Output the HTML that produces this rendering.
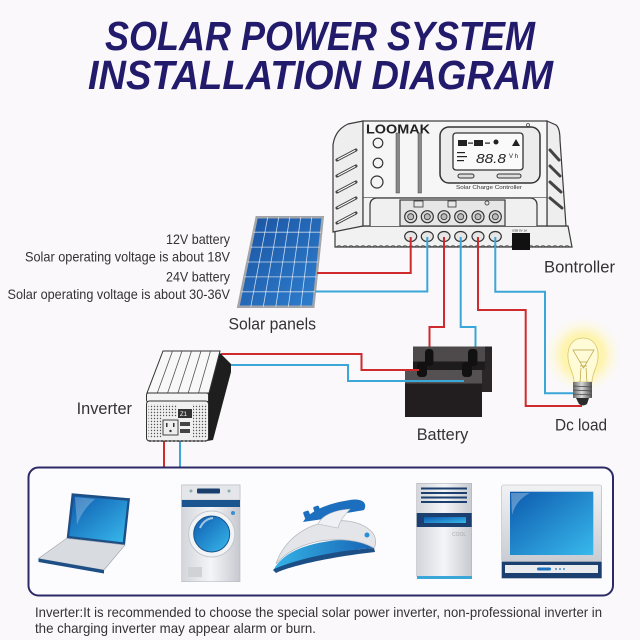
<!DOCTYPE html>
<html><head><meta charset="utf-8"><style>
html,body{margin:0;padding:0;background:#faf8fa;}
svg{display:block;}
text{font-family:"Liberation Sans",sans-serif;}
</style></head><body>
<svg width="640" height="640" viewBox="0 0 640 640" xmlns="http://www.w3.org/2000/svg">
<defs>
<linearGradient id="pv" x1="0" y1="0" x2="1" y2="1"><stop offset="0" stop-color="#1a52a0"/><stop offset="1" stop-color="#2f80cf"/></linearGradient>
<linearGradient id="scr" x1="0" y1="0" x2="1" y2="1"><stop offset="0" stop-color="#0d5aae"/><stop offset="1" stop-color="#38b9ec"/></linearGradient>
<linearGradient id="metal" x1="0" y1="0" x2="0" y2="1"><stop offset="0" stop-color="#f1f2f4"/><stop offset="1" stop-color="#c9ccd2"/></linearGradient>
<linearGradient id="metalh" x1="0" y1="0" x2="1" y2="0"><stop offset="0" stop-color="#d2d5da"/><stop offset="0.5" stop-color="#f4f5f7"/><stop offset="1" stop-color="#c6c9cf"/></linearGradient>
<radialGradient id="glow" cx="0.5" cy="0.5" r="0.5"><stop offset="0" stop-color="#fff6a8" stop-opacity="1"/><stop offset="0.55" stop-color="#fff3a0" stop-opacity="0.8"/><stop offset="1" stop-color="#fffbe0" stop-opacity="0"/></radialGradient>
<linearGradient id="base" x1="0" y1="0" x2="1" y2="0"><stop offset="0" stop-color="#6a6a6a"/><stop offset="0.45" stop-color="#d8d8d8"/><stop offset="1" stop-color="#555"/></linearGradient>
<linearGradient id="ironb" x1="0" y1="0" x2="1" y2="0"><stop offset="0" stop-color="#35b3e6"/><stop offset="1" stop-color="#1763b4"/></linearGradient>
<pattern id="wave" width="6" height="4" patternUnits="userSpaceOnUse"><path d="M0,3.2 Q3,0 6,3.2" fill="none" stroke="#444" stroke-width="0.8"/></pattern>
<pattern id="dots" width="3" height="3" patternUnits="userSpaceOnUse"><circle cx="1.5" cy="1.5" r="0.7" fill="#555"/></pattern>
</defs>

<!-- Title -->
<text x="105" y="50" font-size="41" font-weight="bold" font-style="italic" fill="#221a6b" textLength="430" lengthAdjust="spacingAndGlyphs">SOLAR POWER SYSTEM</text>
<text x="88" y="89" font-size="41" font-weight="bold" font-style="italic" fill="#221a6b" textLength="465" lengthAdjust="spacingAndGlyphs">INSTALLATION DIAGRAM</text>

<!-- Controller -->
<g stroke="#3a3a3a" stroke-width="1.2">
  <path d="M335,226 L568,226 L572,247 L335,247 Z" fill="#f1f1f1"/>
  <rect x="336" y="243.5" width="234" height="4" fill="url(#wave)" stroke="none"/>
  <path d="M333,232 L333,145 Q335,130 348,124 L363,121 L363,226 Z" fill="#eeeeee"/>
  <path d="M547,121 L556,125 Q560,128 560,140 L566,226 L547,226 Z" fill="#eeeeee"/>
  <rect x="363" y="121" width="184" height="77" fill="#f6f6f6"/>
  <path d="M363,198 L363,226 L547,226 L547,198" fill="#f2f2f2"/>
  <path d="M370,226 L370,205 Q370,199 376,198 L531,198 Q537,199 537,205 L537,226" fill="#f0f0f0"/>
  <rect x="400" y="200" width="105" height="26" fill="#e6e6e6"/>
</g>
<g stroke="#444" stroke-width="3" stroke-linecap="round" fill="none">
  <path d="M337,160 L356,150"/><path d="M337,176 L356,166"/><path d="M337,192 L356,182"/><path d="M337,208 L356,198"/><path d="M337,223 L356,213"/>
  <path d="M550,150 L559,160"/><path d="M550,166 L560,176"/><path d="M550,182 L561,192"/><path d="M550,198 L562,208"/>
</g>
<g stroke="#fff" stroke-width="1" stroke-linecap="round" fill="none">
  <path d="M338,159.5 L355,150.5"/><path d="M338,175.5 L355,166.5"/><path d="M338,191.5 L355,182.5"/><path d="M338,207.5 L355,198.5"/><path d="M338,222.5 L355,213.5"/>
</g>
<text x="366" y="133.5" font-size="12.5" font-weight="bold" fill="#222" textLength="64" lengthAdjust="spacingAndGlyphs">LOOMAK</text>
<g fill="#f4f4f4" stroke="#333" stroke-width="1.2">
  <circle cx="378" cy="143" r="4.8"/><circle cx="378" cy="163" r="4.8"/><circle cx="377" cy="182" r="6"/>
</g>
<rect x="396" y="133" width="3.5" height="60" fill="#888" stroke="#444" stroke-width="0.5"/>
<rect x="418" y="133" width="3.5" height="60" fill="#888" stroke="#444" stroke-width="0.5"/>
<rect x="440" y="127" width="100" height="56" rx="9" fill="#ececec" stroke="#333" stroke-width="1.5"/>
<rect x="453" y="133" width="70" height="37" rx="3" fill="#fafafa" stroke="#333" stroke-width="1.3"/>
<g fill="#222">
  <rect x="458" y="140" width="9" height="6"/><rect x="468" y="142.5" width="5" height="1.2"/>
  <rect x="474" y="140" width="9" height="6"/><rect x="485" y="142.5" width="5" height="1.2"/>
  <circle cx="496" cy="142" r="2.5"/><path d="M512,146 L516,139 L520,146 Z"/>
  <rect x="457" y="152" width="8" height="1.2"/><rect x="457" y="156" width="10" height="1.2"/><rect x="457" y="160" width="7" height="1.2"/>
</g>
<text x="476" y="163" font-size="13" font-style="italic" fill="#222" textLength="30" lengthAdjust="spacingAndGlyphs">88.8</text>
<text x="509" y="158" font-size="6" fill="#222">V h</text>
<rect x="458" y="174" width="16" height="4" rx="2" fill="#ddd" stroke="#333" stroke-width="1"/>
<rect x="497" y="174" width="24" height="4" rx="2" fill="#ddd" stroke="#333" stroke-width="1"/>
<text x="456" y="189" font-size="5" fill="#333" textLength="66" lengthAdjust="spacingAndGlyphs">Solar Charge Controller</text>
<circle cx="528" cy="125" r="1.5" fill="none" stroke="#444" stroke-width="0.8"/>
<g fill="#333">
  <rect x="414" y="201" width="9" height="6" fill="none" stroke="#333" stroke-width="0.8"/>
  <rect x="448" y="201" width="8" height="6" fill="none" stroke="#333" stroke-width="0.8"/>
  <circle cx="487" cy="203" r="2" fill="none" stroke="#333" stroke-width="0.8"/>
</g>
<g stroke="#333" stroke-width="1.2">
  <circle cx="410.7" cy="216.7" r="6" fill="#d9d9d9"/><circle cx="427.3" cy="216.7" r="6" fill="#d9d9d9"/><circle cx="444" cy="216.7" r="6" fill="#d9d9d9"/>
  <circle cx="460.7" cy="216.7" r="6" fill="#d9d9d9"/><circle cx="478" cy="216.7" r="6" fill="#d9d9d9"/><circle cx="495.3" cy="216.7" r="6" fill="#d9d9d9"/>
  <circle cx="410.7" cy="216.7" r="3" fill="#bbb" stroke-width="0.8"/><circle cx="427.3" cy="216.7" r="3" fill="#bbb" stroke-width="0.8"/><circle cx="444" cy="216.7" r="3" fill="#bbb" stroke-width="0.8"/>
  <circle cx="460.7" cy="216.7" r="3" fill="#bbb" stroke-width="0.8"/><circle cx="478" cy="216.7" r="3" fill="#bbb" stroke-width="0.8"/><circle cx="495.3" cy="216.7" r="3" fill="#bbb" stroke-width="0.8"/>
  <ellipse cx="410.7" cy="236.5" rx="6" ry="5" fill="#e6e6e6"/><ellipse cx="427.3" cy="236.5" rx="6" ry="5" fill="#e6e6e6"/><ellipse cx="444" cy="236.5" rx="6" ry="5" fill="#e6e6e6"/>
  <ellipse cx="460.7" cy="236.5" rx="6" ry="5" fill="#e6e6e6"/><ellipse cx="478" cy="236.5" rx="6" ry="5" fill="#e6e6e6"/><ellipse cx="495.3" cy="236.5" rx="6" ry="5" fill="#e6e6e6"/>
</g>
<rect x="512" y="233" width="18" height="17" fill="#111"/>
<text x="512" y="231.5" font-size="3" fill="#222">USB 5V 1A</text>

<!-- Solar panel -->
<polygon points="256.7,217.3 322.7,217.3 313.3,306.7 238.3,306.7" fill="url(#pv)" stroke="#a2a6ab" stroke-width="2.5"/>
<g stroke="#ffffff" stroke-opacity="0.75" stroke-width="0.8">
  <line x1="267.7" y1="217.3" x2="250.8" y2="306.7"/><line x1="278.7" y1="217.3" x2="263.3" y2="306.7"/>
  <line x1="289.7" y1="217.3" x2="275.8" y2="306.7"/><line x1="300.7" y1="217.3" x2="288.3" y2="306.7"/>
  <line x1="311.7" y1="217.3" x2="300.8" y2="306.7"/>
  <line x1="253.6" y1="232.2" x2="321.1" y2="232.2"/><line x1="250.6" y1="247.1" x2="319.6" y2="247.1"/>
  <line x1="247.5" y1="262.0" x2="318.0" y2="262.0"/><line x1="244.4" y1="276.9" x2="316.4" y2="276.9"/>
  <line x1="241.4" y1="291.8" x2="314.9" y2="291.8"/>
</g>

<!-- Wires -->
<g fill="none" stroke-width="2" stroke-linejoin="miter">
  <path d="M317,273 H410.7 V237" stroke="#cf2a2d"/>
  <path d="M315,291.5 H427.3 V237" stroke="#3ba6d8"/>
  <path d="M429.5,352 V327 H444 V237" stroke="#cf2a2d"/>
  <path d="M475.5,349 V327 H460.7 V237" stroke="#3ba6d8"/>
  <path d="M478,237 V310 H525.7 V406 H582" stroke="#cf2a2d"/>
  <path d="M495.3,237 V291.7 H545 V393.3 H575" stroke="#3ba6d8"/>
  <path d="M221,354 H361.5 V370 H419" stroke="#cf2a2d"/>
  <path d="M230,365 H348 V381 H464" stroke="#3ba6d8"/>
  <path d="M164,440 V468" stroke="#cf2a2d"/>
  <path d="M180,440 V468" stroke="#3ba6d8"/>
</g>

<!-- Battery -->
<rect x="413" y="346.5" width="79" height="45" fill="#2a2627"/>
<rect x="413" y="346.5" width="72" height="15" fill="#4e4a4b"/>
<rect x="413" y="361.5" width="72" height="9" fill="#1e1b1c"/>
<rect x="405" y="370" width="77" height="13.5" fill="#555152"/>
<rect x="405" y="383.5" width="77" height="33.5" fill="#221e1f"/>
<rect x="482" y="370" width="10" height="22" fill="#2a2627"/>
<g fill="#111">
  <rect x="425" y="349" width="8.5" height="17" rx="3.5"/><rect x="417" y="362" width="10" height="15" rx="3.5"/>
  <rect x="468" y="349" width="9.5" height="17" rx="3.5"/><rect x="462" y="362" width="10" height="15" rx="3.5"/>
</g>
<path d="M348,381 H464" stroke="#3ba6d8" stroke-width="2" fill="none"/>
<path d="M361.5,370 H419" stroke="#cf2a2d" stroke-width="2" fill="none"/>

<!-- Bulb -->
<circle cx="583" cy="355" r="38" fill="url(#glow)"/>
<path d="M574,382 C574,372 567,366 568,353 C569,343 575,338 583,338 C591,338 597,343 598,353 C599,366 592,372 592,382 Z" fill="#fffbd6" stroke="#d8c866" stroke-width="0.8"/>
<g stroke="#b8a040" stroke-width="0.7" fill="none">
  <path d="M573,350 L594,350 L583.5,368 Z"/>
  <path d="M580,382 L581,368 M587,382 L586,368"/>
  <path d="M580,362 L587,362 M580,366 L587,366"/>
</g>
<rect x="573" y="382" width="19" height="16" fill="url(#base)"/>
<g stroke="#444" stroke-width="0.8"><line x1="573" y1="386" x2="592" y2="387"/><line x1="573" y1="390" x2="592" y2="391"/><line x1="573" y1="394" x2="592" y2="395"/></g>
<path d="M576,398 H589 L587,404 Q583,407 579,404 Z" fill="#2b2b2b"/>

<!-- Inverter -->
<polygon points="219,352 231,364 231,372 213,440 207,441 207,398" fill="#1e1e1e"/>
<polygon points="163,351 220,351 209,393 147,393" fill="#f8f8f8" stroke="#333" stroke-width="1"/>
<g stroke="#555" stroke-width="0.8">
  <line x1="172.5" y1="351" x2="157.3" y2="393"/><line x1="182" y1="351" x2="167.6" y2="393"/>
  <line x1="191.5" y1="351" x2="177.9" y2="393"/><line x1="201" y1="351" x2="188.2" y2="393"/>
  <line x1="210.5" y1="351" x2="198.5" y2="393"/>
</g>
<rect x="146.5" y="393" width="62" height="9" rx="2" fill="#f4f4f4" stroke="#333" stroke-width="1"/>
<rect x="146.5" y="401" width="62" height="40" rx="3" fill="#f0f0f0" stroke="#333" stroke-width="1"/>
<rect x="148.5" y="404" width="13" height="34" fill="url(#dots)"/>
<rect x="193" y="404" width="14" height="34" fill="url(#dots)"/>
<rect x="163" y="404" width="14" height="13" fill="url(#dots)"/>
<rect x="163" y="420" width="15" height="15" fill="#eee" stroke="#333" stroke-width="0.9"/>
<g fill="#333"><rect x="166" y="423" width="1.5" height="4"/><rect x="173" y="423" width="1.5" height="4"/><circle cx="170.5" cy="431" r="1.2"/></g>
<rect x="178" y="409" width="14" height="9" fill="#333"/>
<text x="180" y="416" font-size="6" fill="#fff">Z1</text>
<rect x="180" y="422" width="10" height="4" fill="#444"/><rect x="180" y="429" width="10" height="4" fill="#444"/>
<line x1="149" y1="441" x2="206" y2="441" stroke="#333" stroke-width="1.5" stroke-dasharray="2,2"/>

<!-- Labels -->
<g fill="#333">
<text x="166" y="244" font-size="14" textLength="64" lengthAdjust="spacingAndGlyphs">12V battery</text>
<text x="25" y="261.5" font-size="14" textLength="205" lengthAdjust="spacingAndGlyphs">Solar operating voltage is about 18V</text>
<text x="166" y="281.7" font-size="14" textLength="64" lengthAdjust="spacingAndGlyphs">24V battery</text>
<text x="7.5" y="299" font-size="14" textLength="222.5" lengthAdjust="spacingAndGlyphs">Solar operating voltage is about 30-36V</text>
<text x="228.5" y="329.3" font-size="17" textLength="87.5" lengthAdjust="spacingAndGlyphs">Solar panels</text>
<text x="544" y="272.5" font-size="17" textLength="71" lengthAdjust="spacingAndGlyphs">Bontroller</text>
<text x="416.7" y="440" font-size="17" textLength="51.6" lengthAdjust="spacingAndGlyphs">Battery</text>
<text x="555" y="430.7" font-size="17" textLength="52" lengthAdjust="spacingAndGlyphs">Dc load</text>
<text x="76.6" y="414" font-size="17" textLength="55.4" lengthAdjust="spacingAndGlyphs">Inverter</text>
</g>

<!-- Appliance box -->
<rect x="28.5" y="467.5" width="584.5" height="128" rx="10" fill="#fcfbfd" stroke="#2b2a66" stroke-width="2"/>

<!-- Laptop -->
<polygon points="71.7,493.3 130,498.3 125,545 66.7,538.3" fill="#1d4f86"/>
<polygon points="74,496 127.5,500.7 122.8,542.3 69.2,536" fill="url(#scr)"/>
<path d="M75,497 L95,499 Q82,510 77,525 Z" fill="#fff" fill-opacity="0.25"/>
<polygon points="66.7,538.3 125,545 104,570 38.5,558.5" fill="#d8dbe0" stroke="#9ea4ac" stroke-width="0.6"/>
<polygon points="38.5,558.5 104,570 104,573.5 38.5,562" fill="#1d4f86"/>

<!-- Washer -->
<rect x="181.7" y="485" width="58.3" height="96.7" fill="url(#metalh)" stroke="#b8bcc4" stroke-width="0.6"/>
<rect x="181.7" y="485" width="58.3" height="15" fill="#e4e6ea" stroke="#b8bcc4" stroke-width="0.6"/>
<rect x="197" y="488.5" width="23" height="5" rx="1" fill="#1a3f6c"/>
<circle cx="191" cy="491" r="1.5" fill="#8aa"/><circle cx="229" cy="491" r="1.5" fill="#8aa"/>
<rect x="181.7" y="500" width="58.3" height="7" fill="#1b5590"/>
<circle cx="211.7" cy="534" r="23" fill="#f2f3f5" stroke="#c3c7ce" stroke-width="1"/>
<circle cx="211.7" cy="534" r="18" fill="url(#scr)" stroke="#1b5590" stroke-width="1"/>
<path d="M200,528 Q204,519 213,518" stroke="#fff" stroke-opacity="0.6" stroke-width="2" fill="none"/>
<circle cx="233" cy="513" r="2" fill="#3a8fd0"/>
<rect x="188" y="567" width="14" height="10" fill="#d0d2d6"/>

<!-- Iron -->
<path d="M273,570 C285,560 320,552 374,548 L375,552 C330,557 290,566 276,573 Z" fill="#1b4f86"/>
<path d="M274,569 C282,555 300,545 330,541 C350,538 368,540 374,548 C340,550 300,558 274,569 Z" fill="url(#ironb)"/>
<path d="M276,564 C282,545 298,530 318,524 C340,518 360,520 372,532 C377,538 376,545 374,548 C360,540 340,538 320,541 C300,545 285,553 276,564 Z" fill="#e3e5e9" stroke="#b5b9c0" stroke-width="0.8"/>
<path d="M303,522 C310,510 330,503 350,500 C362,498 368,503 364,510 C355,512 340,513 330,518 Z" fill="#1c6fbf"/>
<path d="M318,524 C322,515 335,510 350,509 C345,515 340,520 338,528 Z" fill="#eef0f3" stroke="#b5b9c0" stroke-width="0.6"/>
<rect x="304" y="511" width="6" height="8" rx="1.5" fill="#1c6fbf" transform="rotate(-20 307 515)"/>
<rect x="314" y="506" width="6" height="8" rx="1.5" fill="#1c6fbf" transform="rotate(-20 317 510)"/>
<circle cx="367" cy="535" r="2.5" fill="#2a8fd6"/>

<!-- AC unit -->
<rect x="416.7" y="483.3" width="55" height="93" fill="url(#metalh)" stroke="#b0b4ba" stroke-width="0.6"/>
<g stroke="#1b3f6e" stroke-width="2"><line x1="421" y1="488.5" x2="467" y2="488.5"/><line x1="421" y1="493" x2="467" y2="493"/><line x1="421" y1="497.5" x2="467" y2="497.5"/><line x1="421" y1="502" x2="467" y2="502"/></g>
<rect x="416.7" y="513" width="55" height="14" fill="#1b3f6e"/>
<rect x="424" y="517" width="42" height="6" fill="url(#scr)"/>
<text x="452" y="536" font-size="5" fill="#aaa">COOL</text>
<rect x="417" y="576" width="55" height="3" fill="#3aa7d8"/>

<!-- TV -->
<rect x="501.7" y="485" width="100" height="77" rx="2" fill="url(#metal)" stroke="#b0b4ba" stroke-width="0.6"/>
<rect x="510" y="491.7" width="83.3" height="63.3" fill="url(#scr)"/>
<path d="M511,493 L530,493 Q516,500 512,515 Z" fill="#fff" fill-opacity="0.3"/>
<rect x="501.7" y="561.7" width="100" height="16.6" fill="#1b3f6e"/>
<rect x="505" y="565" width="93" height="8" fill="#e9ebee"/>
<rect x="537" y="567.5" width="14" height="3" rx="1.5" fill="#1e73c0"/>
<circle cx="556" cy="569" r="0.9" fill="#1e73c0"/><circle cx="560" cy="569" r="0.9" fill="#1e73c0"/><circle cx="564" cy="569" r="0.9" fill="#1e73c0"/>

<!-- Bottom note -->
<text x="35" y="617" font-size="14" fill="#333" textLength="567" lengthAdjust="spacingAndGlyphs">Inverter:It is recommended to choose the special solar power inverter, non-professional inverter in</text>
<text x="35" y="633" font-size="14" fill="#333" textLength="281" lengthAdjust="spacingAndGlyphs">the charging inverter may appear alarm or burn.</text>
</svg>
</body></html>
